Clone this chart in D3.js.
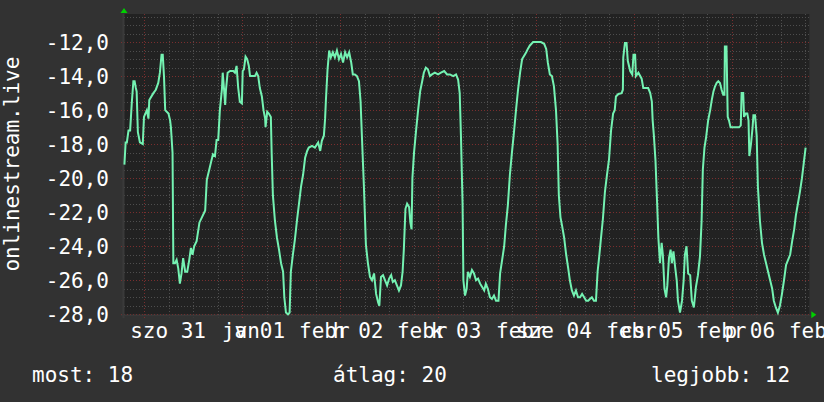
<!DOCTYPE html>
<html><head><meta charset="utf-8">
<script src="https://cdn.jsdelivr.net/npm/d3@7/dist/d3.min.js"></script>
<style>html,body{margin:0;padding:0;background:#323232;overflow:hidden}svg{display:block}</style>
</head><body>
<svg id="c" width="824" height="402"></svg>
<script>
// hours since Jan 30, 19:00 (7-day window)
const hours=[0.1,0.4,0.7,1.1,1.5,1.9,2.3,2.6,2.9,3.1,3.4,3.9,4.6,4.9,5.6,6.0,6.2,7.2,7.8,8.4,8.8,9.2,9.5,9.8,10.1,10.9,11.3,11.5,11.9,12.1,12.5,12.9,13.3,13.7,14.1,14.5,15.0,15.5,16.0,16.4,16.8,17.2,17.8,18.5,19.1,19.9,20.3,21.1,21.8,22.3,22.7,23.1,23.5,24.0,24.2,24.5,24.8,25.0,25.4,26.0,26.8,27.2,27.6,28.0,28.4,28.9,29.1,29.4,29.8,30.2,30.6,30.9,32.1,32.5,32.9,33.3,33.8,34.2,34.6,34.7,35.1,35.5,36.0,36.2,36.5,37.0,37.5,38.0,38.5,39.0,39.3,39.7,40.2,40.6,40.9,41.4,41.9,42.4,42.9,43.4,43.9,44.4,44.9,45.3,46.1,46.8,47.6,48.1,48.5,49.0,49.3,49.5,49.9,50.3,50.7,51.2,51.7,52.2,52.7,53.2,53.7,54.2,54.7,55.2,55.7,56.1,56.6,57.1,57.6,58.0,58.3,58.8,59.3,59.8,60.3,60.8,61.3,61.8,62.3,62.6,63.0,63.5,64.0,64.5,65.0,65.5,65.9,66.4,66.9,67.4,67.9,68.3,68.6,69.0,69.4,69.9,70.2,70.5,70.7,71.1,71.6,72.1,72.6,73.1,73.5,74.0,74.5,75.0,75.5,76.2,77.0,77.7,78.5,79.2,79.9,80.7,81.4,81.9,82.3,82.6,83.0,83.2,83.6,84.0,84.3,84.8,85.3,85.8,86.3,86.8,87.3,87.8,88.3,88.7,89.2,89.7,90.2,90.7,91.2,91.8,92.2,92.7,93.2,93.6,94.1,94.6,95.1,95.6,96.1,96.6,97.1,97.6,98.1,98.6,99.0,99.5,100.3,101.3,102.2,103.0,103.5,103.9,104.4,104.9,105.4,105.9,106.3,106.6,107.0,107.4,107.9,108.4,108.9,109.3,109.8,110.3,110.8,111.3,111.8,112.3,112.8,113.3,113.8,114.2,114.7,115.2,115.7,116.1,116.5,116.9,117.4,117.9,118.4,118.9,119.4,119.9,120.3,120.6,121.2,122.0,122.3,122.4,122.8,123.2,123.5,124.1,124.6,124.9,125.3,125.5,126.1,126.9,127.3,128.5,129.0,129.4,129.6,129.9,130.3,130.7,131.0,131.4,131.8,132.1,132.5,132.9,133.2,133.6,134.0,134.3,134.7,135.1,135.5,135.8,136.3,136.8,137.2,137.5,137.9,138.3,138.8,139.2,139.7,140.2,140.7,141.2,141.6,141.9,142.3,142.7,143.2,143.7,144.1,144.5,144.9,145.3,145.7,146.1,146.5,146.9,147.2,147.3,147.7,148.0,148.3,148.7,149.3,150.0,150.8,151.2,151.4,151.8,152.0,152.4,152.8,153.1,153.3,153.7,154.1,154.3,154.7,155.1,155.4,155.9,156.4,156.9,157.4,157.9,158.4,158.9,159.3,159.8,160.3,160.8,161.3,161.8,162.3,162.8,163.3,163.8,164.3,164.7,165.2,165.7,166.2,166.7,167.1];
const temps=[-19.2,-17.9,-17.9,-17.2,-17.2,-15.6,-14.3,-14.3,-14.7,-14.9,-17.3,-17.9,-18.0,-16.4,-16.0,-16.5,-15.4,-15.0,-14.8,-14.4,-13.8,-12.75,-12.75,-14.0,-16.0,-16.2,-16.6,-17.0,-18.5,-25.0,-25.0,-24.8,-25.3,-26.2,-25.6,-24.7,-25.5,-25.5,-24.8,-24.1,-24.5,-24.0,-23.7,-22.6,-22.3,-21.9,-20.1,-19.3,-18.6,-18.7,-17.75,-17.75,-16.0,-14.8,-13.8,-14.7,-15.7,-14.8,-13.8,-13.7,-13.7,-13.8,-13.4,-14.7,-15.5,-15.6,-13.7,-13.6,-12.85,-13.0,-13.4,-14.0,-14.0,-13.8,-14.0,-14.7,-15.2,-16.0,-16.5,-17.0,-16.1,-16.2,-16.4,-18.5,-21.0,-22.5,-23.5,-24.2,-25.0,-25.5,-27.0,-27.9,-28.0,-27.9,-25.5,-24.5,-23.6,-22.5,-21.5,-20.5,-19.8,-18.8,-18.4,-18.2,-18.1,-18.2,-17.9,-18.4,-17.8,-17.5,-16.5,-15.4,-13.6,-12.5,-12.9,-12.6,-12.9,-12.5,-13.0,-12.7,-13.2,-12.6,-12.9,-12.6,-13.2,-13.9,-13.9,-14.0,-14.3,-15.5,-17.4,-20.4,-23.9,-25.0,-25.8,-26.0,-25.6,-26.8,-27.3,-27.5,-25.8,-25.7,-26.0,-26.3,-25.9,-25.7,-26.1,-26.0,-26.3,-26.6,-26.3,-25.5,-24.2,-21.8,-21.5,-21.7,-22.6,-23.0,-20.0,-18.5,-17.2,-16.0,-14.9,-14.3,-13.8,-13.5,-13.6,-14.0,-13.9,-13.8,-13.9,-13.8,-13.7,-13.9,-13.9,-14.0,-13.9,-14.2,-15.0,-17.5,-21.5,-26.0,-26.9,-26.5,-25.5,-25.8,-25.4,-25.6,-26.0,-25.9,-26.2,-26.4,-26.6,-26.2,-26.5,-27.0,-27.1,-26.9,-27.2,-27.2,-25.6,-24.8,-24.0,-22.8,-21.6,-19.8,-18.5,-17.3,-16.0,-14.8,-13.8,-13.0,-12.8,-12.6,-12.4,-12.2,-12.0,-12.0,-12.0,-12.1,-12.4,-13.2,-13.9,-14.0,-14.6,-16.0,-18.0,-21.0,-22.3,-22.8,-23.5,-24.5,-25.3,-26.0,-26.6,-26.9,-26.6,-27.0,-27.0,-26.8,-27.0,-27.2,-27.2,-27.1,-27.0,-27.2,-27.2,-25.5,-24.6,-23.6,-22.4,-20.8,-19.8,-18.9,-17.2,-16.2,-16.0,-15.2,-15.05,-15.0,-14.8,-12.9,-12.06,-12.06,-13.1,-13.7,-13.9,-12.75,-12.75,-14.0,-13.8,-14.15,-14.7,-14.7,-15.0,-15.5,-16.6,-17.5,-19.0,-21.5,-23.5,-25.0,-23.8,-24.5,-26.5,-27.0,-26.3,-24.7,-24.2,-25.0,-24.3,-25.2,-26.0,-27.2,-27.9,-27.2,-26.0,-24.5,-24.0,-25.6,-25.7,-27.2,-27.6,-26.4,-25.7,-24.6,-22.5,-19.5,-18.2,-17.6,-16.6,-16.0,-15.4,-14.9,-14.6,-14.4,-14.3,-14.4,-14.8,-15.1,-15.1,-12.26,-12.26,-16.4,-16.6,-17.0,-17.0,-17.0,-17.0,-16.9,-15.0,-15.0,-16.4,-16.2,-16.2,-16.6,-18.7,-18.0,-17.0,-16.3,-16.3,-17.5,-20.5,-22.5,-23.8,-24.5,-25.0,-25.5,-26.0,-26.5,-27.2,-27.6,-27.9,-27.5,-26.8,-26.0,-25.1,-24.8,-24.5,-23.7,-23.0,-22.2,-21.5,-20.8,-20.0,-19.0,-18.2];

const yTicks=[-28,-26,-24,-22,-20,-18,-16,-14,-12];
const dayLabels=["szo 31","v 01","h 02","k 03","sze 04","cs 05","p 06"];
const dayLabelHours=[10.8,33.3,57.4,81.4,105.4,129.4,153.4];
const monthLabels=["jan","febr","febr","febr","febr","febr","febr"];
const monthLabelHours=[24.0,42.9,66.9,91.2,118.2,140.2,163.0];
const legendLabels=["most: 18","átlag: 20","legjobb: 12"];
const yTitle="onlinestream.live";

const W=824,H=402, L=124, R=809.3, T=14, B=314.3;
const FONT="'DejaVu Sans Mono', monospace";
const svg=d3.select("#c");
svg.append("rect").attr("width",W).attr("height",H).attr("fill","#323232");
svg.append("rect").attr("x",L).attr("y",T).attr("width",R-L).attr("height",B-T).attr("fill","#222222");

const x=d3.scaleLinear().domain([0,168]).range([L,R]);
const y=d3.scaleLinear().domain([-28,-10.35]).range([B,T]);
const px=v=>Math.round(v)+0.5;

// horizontal grid
const g=svg.append("g");
const minorY=d3.range(-28,-10.3,0.5).filter(v=>Math.abs(v%2)>1e-6);
g.selectAll("line.hmin").data(minorY).join("line")
 .attr("x1",L).attr("x2",R).attr("y1",d=>px(y(d))).attr("y2",d=>px(y(d)))
 .attr("stroke","#4e4e4e").attr("stroke-dasharray","1,2");
// vertical grid (every 6 h, midnight at hour 5)
const minorX=d3.range(5-24,169,6).filter(h=>h>0&&h<168&&((h-5)%24)!==0);
const majorX=d3.range(5,169,24);
g.selectAll("line.vmin").data(minorX).join("line")
 .attr("x1",d=>px(x(d))).attr("x2",d=>px(x(d))).attr("y1",T).attr("y2",B+3)
 .attr("stroke","#4e4e4e").attr("stroke-dasharray","1,2");
g.selectAll("line.hmaj").data(yTicks).join("line")
 .attr("x1",L-3).attr("x2",R).attr("y1",d=>px(y(d))).attr("y2",d=>px(y(d)))
 .attr("stroke","#7a2e2e").attr("stroke-dasharray","1,2");
g.selectAll("line.vmaj").data(majorX).join("line")
 .attr("x1",d=>px(x(d))).attr("x2",d=>px(x(d))).attr("y1",T).attr("y2",B+4)
 .attr("stroke","#7a2e2e").attr("stroke-dasharray","1,2");

// axes
svg.append("line").attr("x1",L-0.5).attr("x2",L-0.5).attr("y1",T).attr("y2",B+4).attr("stroke","#3a3a3a").attr("stroke-width",2);
svg.append("line").attr("x1",L-3).attr("x2",R+3).attr("y1",B+1).attr("y2",B+1).attr("stroke","#3a3a3a").attr("stroke-width",1);
svg.append("path").attr("d",`M${L-3.5},13 L${L+3.5},13 L${L},8 Z`).attr("fill","#00d000");
svg.append("path").attr("d",`M${R+2},${B-3} L${R+2},${B+4} L${R+7},${B+0.5} Z`).attr("fill","#00d000");

// data line
const data=hours.map((h,i)=>({h,v:temps[i]}));
svg.append("path").datum(data)
 .attr("d",d3.line().x(d=>x(d.h)).y(d=>y(d.v)))
 .attr("fill","none").attr("stroke","#74f2b2").attr("stroke-width",2).attr("stroke-linejoin","miter");

// y labels
svg.append("g").selectAll("text").data(yTicks).join("text")
 .attr("x",109).attr("y",d=>y(d)+7.6).attr("text-anchor","end")
 .attr("font-family",FONT).attr("font-size",21).attr("fill","#fff")
 .text(d=>d.toFixed(1).replace(".",","));

// y title
svg.append("text").attr("transform",`translate(19,${(T+B)/2}) rotate(-90)`)
 .attr("text-anchor","middle").attr("font-family",FONT).attr("font-size",21).attr("fill","#fff").text(yTitle);

// x labels (two overlapping sets as in the reference)
svg.append("g").selectAll("text").data(monthLabels).join("text")
 .attr("x",(d,i)=>x(monthLabelHours[i])).attr("y",338).attr("text-anchor","start")
 .attr("font-family",FONT).attr("font-size",21).attr("fill","#fff").text(d=>d);
svg.append("g").selectAll("text").data(dayLabels).join("text")
 .attr("x",(d,i)=>x(dayLabelHours[i])).attr("y",338).attr("text-anchor","middle")
 .attr("font-family",FONT).attr("font-size",21).attr("fill","#fff").text(d=>d);

// legend
const legX=[32,333,651];
svg.append("g").selectAll("text").data(legendLabels).join("text")
 .attr("x",(d,i)=>legX[i]).attr("y",381.5)
 .attr("font-family",FONT).attr("font-size",21).attr("fill","#fff").text(d=>d);
</script>
</body></html>
